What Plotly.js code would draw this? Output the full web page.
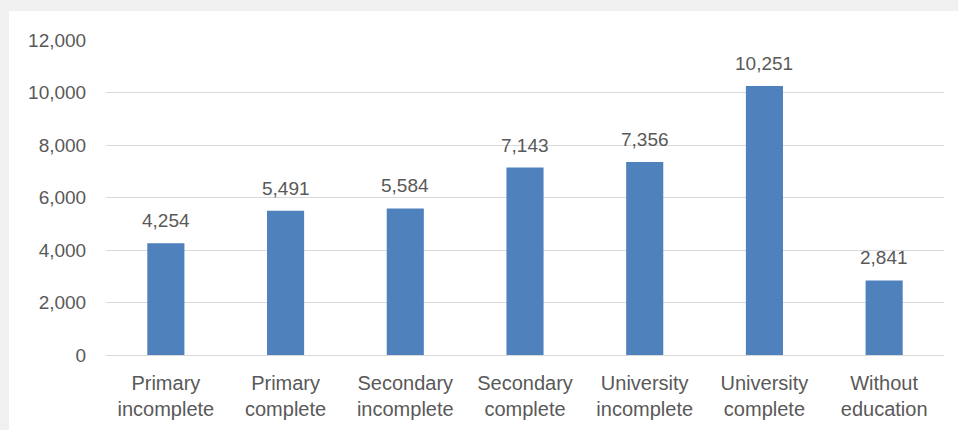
<!DOCTYPE html>
<html>
<head>
<meta charset="utf-8">
<script src="https://cdn.plot.ly/plotly-3.0.1.min.js"></script>
<style>
html,body{margin:0;padding:0;background:#f0f0f0;width:958px;height:430px;overflow:hidden;}
#chart{position:absolute;left:9px;top:11px;width:949px;height:419px;background:#fff;}
</style>
</head>
<body>
<div id="chart"></div>
<script>
const categories = ["Primary<br>incomplete","Primary<br>complete","Secondary<br>incomplete","Secondary<br>complete","University<br>incomplete","University<br>complete","Without<br>education"];
const values = [4254, 5491, 5584, 7143, 7356, 10251, 2841];
const yTicks = [0, 2000, 4000, 6000, 8000, 10000, 12000];

const fontFam = '"Liberation Sans", Arial, sans-serif';
const textColor = '#595959';

const trace = {
  type: 'bar',
  x: categories,
  y: values,
  marker: {color: '#4F81BD'},
  hoverinfo: 'none'
};

const annotations = categories.map((c, i) => ({
  x: c, y: values[i], xref: 'x', yref: 'y',
  text: values[i].toLocaleString('en-US'),
  showarrow: false, yanchor: 'bottom', yshift: 10,
  font: {family: fontFam, size: 19, color: textColor}
}));

const layout = {
  width: 949, height: 419,
  margin: {l: 97, r: 14, t: 29, b: 75},
  paper_bgcolor: '#ffffff',
  plot_bgcolor: '#ffffff',
  bargap: 0.69,
  showlegend: false,
  font: {family: fontFam, size: 19, color: textColor},
  xaxis: {
    showgrid: false, showline: false, zeroline: false,
    ticks: 'outside', ticklen: 10, tickcolor: 'rgba(0,0,0,0)',
    tickfont: {family: fontFam, size: 20, color: textColor}
  },
  yaxis: {
    range: [0, 12000],
    tickvals: yTicks,
    ticktext: yTicks.map(v => v.toLocaleString('en-US')),
    showgrid: true, gridcolor: '#d9d9d9', gridwidth: 1,
    zeroline: true, zerolinecolor: '#d9d9d9', zerolinewidth: 1,
    showline: false,
    ticks: 'outside', ticklen: 15, tickcolor: 'rgba(0,0,0,0)',
    tickfont: {family: fontFam, size: 19, color: textColor}
  },
  annotations: annotations
};

Plotly.newPlot('chart', [trace], layout, {displayModeBar: false, staticPlot: true});
</script>
</body>
</html>
